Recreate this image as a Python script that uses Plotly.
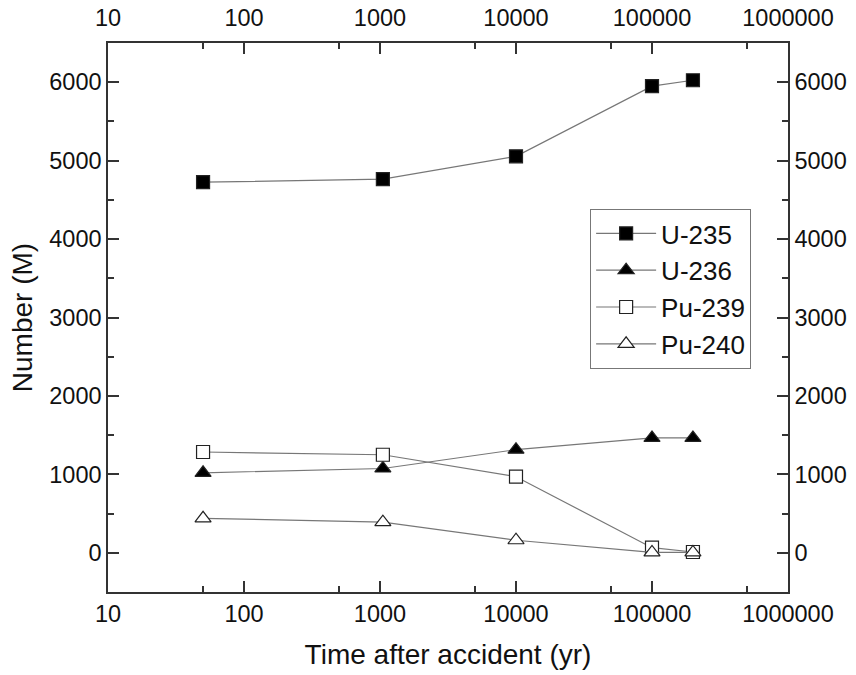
import plotly.graph_objects as go

time_yr = [50, 1050, 10000, 100000, 200000]
u235 = [4725, 4765, 5055, 5950, 6025]
u236 = [1020, 1075, 1315, 1465, 1465]
pu239 = [1285, 1250, 970, 65, 10]
pu240 = [440, 390, 160, 5, 5]

series = [
    ("U-235", u235, "square", "black"),
    ("U-236", u236, "triangle-up", "black"),
    ("Pu-239", pu239, "square", "white"),
    ("Pu-240", pu240, "triangle-up", "white"),
]

FONT = "Liberation Sans, Arial, sans-serif"
fig = go.Figure()
for name, vals, sym, fill in series:
    fig.add_trace(go.Scatter(
        x=time_yr, y=vals, name=name, mode="lines+markers",
        line=dict(color="#777777", width=1.2),
        marker=dict(symbol=sym, size=14 if "triangle" in sym else 13, color=fill,
                    line=dict(color="#222222", width=1.2)),
    ))

# invisible trace for mirror axes
fig.add_trace(go.Scatter(x=[time_yr[0]], y=[u235[0]], xaxis="x2", yaxis="y2",
                         mode="markers", marker=dict(opacity=0), showlegend=False,
                         hoverinfo="skip"))

xmajor = [10, 100, 1000, 10000, 100000, 1000000]
xlabels = ["10", "100", "1000", "10000", "100000", "1000000"]
xminor = [50, 500, 5000, 50000, 500000]
ymajor = [0, 1000, 2000, 3000, 4000, 5000, 6000]
yminor = [-500, 500, 1500, 2500, 3500, 4500, 5500, 6500]

tickfont = dict(family=FONT, size=23.5, color="#111111")
common_x = dict(type="log", range=[1, 6], tickvals=xmajor, ticktext=xlabels,
                ticks="inside", ticklen=11, tickwidth=1.5, tickcolor="#333333",
                showline=True, linecolor="#333333", linewidth=1.5,
                showgrid=False, zeroline=False, tickfont=tickfont, automargin=False,
                minor=dict(tickvals=xminor, ticks="inside", ticklen=6,
                           tickwidth=1.5, tickcolor="#333333", showgrid=False))
common_y = dict(range=[-500, 6500], tickvals=ymajor,
                ticks="inside", ticklen=11, tickwidth=1.5, tickcolor="#333333",
                showline=True, linecolor="#333333", linewidth=1.5,
                showgrid=False, zeroline=False, tickfont=tickfont, automargin=False,
                minor=dict(tickvals=yminor, ticks="inside", ticklen=6,
                           tickwidth=1.5, tickcolor="#333333", showgrid=False))

fig.update_layout(
    width=856, height=675,
    margin=dict(l=108, r=68, t=43, b=83),
    paper_bgcolor="white", plot_bgcolor="white",
    font=dict(family=FONT, color="#111111"),
    xaxis=dict(**common_x, title=dict(text="Time after accident (yr)",
                                      font=dict(family=FONT, size=28), standoff=18)),
    yaxis=dict(**common_y, title=dict(text="Number (M)",
                                      font=dict(family=FONT, size=28), standoff=8)),
    xaxis2=dict(**common_x, overlaying="x", side="top", anchor="y",
                ticklabelstandoff=6),
    yaxis2=dict(**common_y, overlaying="y", side="right", anchor="x"),
    legend=dict(x=0.709, y=0.6976, xanchor="left", yanchor="top",
                bgcolor="white", bordercolor="#777777", borderwidth=1,
                font=dict(family=FONT, size=26, color="#111111"),
                tracegroupgap=0, itemwidth=60),
    showlegend=True,
)

fig.write_html("out.html")
